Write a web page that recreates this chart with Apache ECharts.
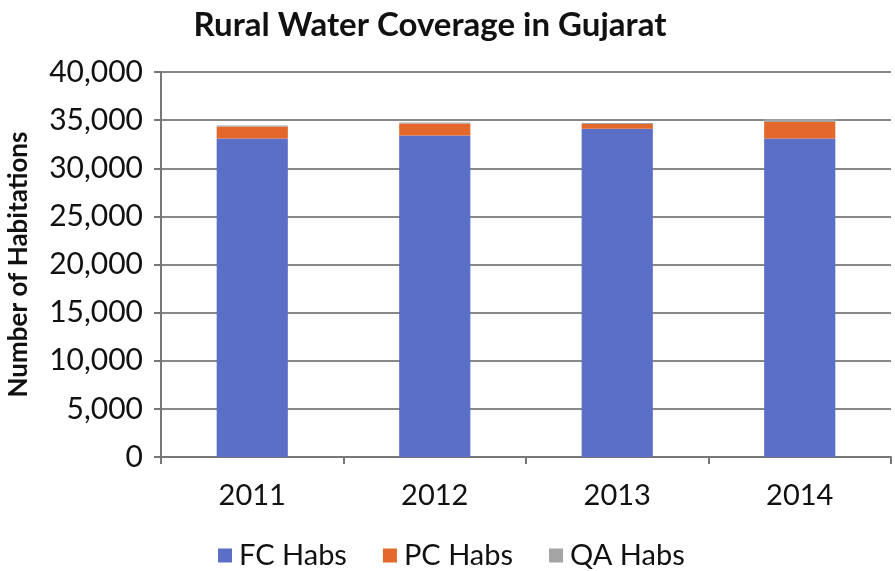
<!DOCTYPE html>
<html><head><meta charset="utf-8">
<script src="https://cdn.jsdelivr.net/npm/echarts@6/dist/echarts.min.js"></script>
<style>html,body{margin:0;padding:0;background:#fff}#c{width:895px;height:571px}</style>
</head><body><div id="c"></div>
<script>
const categories = ['2011', '2012', '2013', '2014'];
const fcHabs = [33100, 33400, 34100, 33100];
const pcHabs = [1250, 1250, 500, 1700];
const qaHabs = [100, 100, 100, 300];
const yTicks = [0, 5000, 10000, 15000, 20000, 25000, 30000, 35000, 40000];

const font = 'Lato, "Open Sans", sans-serif';
const chart = echarts.init(document.getElementById('c'));
chart.setOption({
  animation: false,
  title: {
    text: 'Rural Water Coverage in Gujarat',
    left: 425, top: 4, textAlign: 'center',
    textStyle: {fontFamily: font, fontWeight: 'bold', fontSize: 33, color: '#111'}
  },
  legend: {
    top: 536, left: 213,
    itemWidth: 14, itemHeight: 14, itemGap: 36,
    icon: 'rect',
    textStyle: {fontFamily: font, fontSize: 29, color: '#111', padding: [0, 0, 0, 2]},
    data: ['FC Habs', 'PC Habs', 'QA Habs']
  },
  grid: {left: 161, right: 4, top: 72, bottom: 114, containLabel: false, outerBoundsMode: 'none'},
  xAxis: {
    type: 'category', data: categories,
    axisLine: {lineStyle: {color: '#777', width: 2}},
    axisTick: {show: true, length: 7, lineStyle: {color: '#777', width: 2}},
    axisLabel: {fontFamily: font, fontSize: 29, color: '#111', margin: 24}
  },
  yAxis: {
    type: 'value', min: yTicks[0], max: yTicks[yTicks.length - 1], interval: 5000,
    name: 'Number of Habitations', nameLocation: 'middle', nameGap: 129, nameRotate: 90,
    nameTextStyle: {fontFamily: font, fontWeight: 'bold', fontSize: 26, color: '#111'},
    axisLine: {show: true, lineStyle: {color: '#777', width: 2}},
    axisTick: {show: true, length: 7, lineStyle: {color: '#777', width: 2}},
    splitLine: {lineStyle: {color: '#888', width: 2}},
    axisLabel: {fontFamily: font, fontSize: 30, color: '#111', margin: 18,
      formatter: v => v.toLocaleString('en-US')}
  },
  series: [
    {name: 'FC Habs', type: 'bar', stack: 'a', data: fcHabs, barWidth: '39%', itemStyle: {color: '#5b6fc6'}},
    {name: 'PC Habs', type: 'bar', stack: 'a', data: pcHabs, itemStyle: {color: '#e4682c'}},
    {name: 'QA Habs', type: 'bar', stack: 'a', data: qaHabs, itemStyle: {color: '#a5a5a5'}}
  ]
});
</script></body></html>
